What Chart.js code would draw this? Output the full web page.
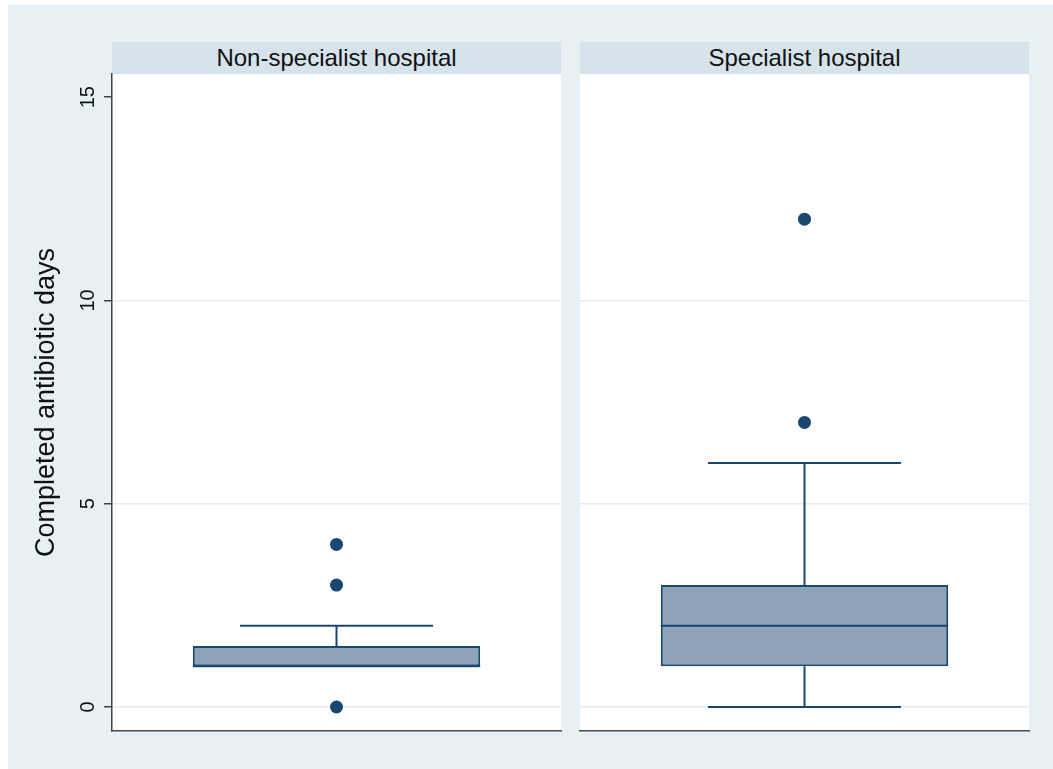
<!DOCTYPE html>
<html>
<head>
<meta charset="utf-8">
<title>Completed antibiotic days by hospital type</title>
<script src="https://cdn.jsdelivr.net/npm/chart.js@4.4.1/dist/chart.umd.min.js"></script>
<style>
  html, body { margin: 0; padding: 0; background: #ffffff; }
  body { width: 1053px; height: 769px; position: relative; overflow: hidden;
         font-family: "Liberation Sans", Arial, Helvetica, sans-serif; }
  #frame { position: absolute; left: 8px; top: 5px; width: 1045px; height: 764px; background: #e7f1f4; }
  .strip { position: absolute; top: 42px; height: 32px; line-height: 32px; background: #d6e3ea;
           color: #111; font-size: 24px; text-align: center; white-space: nowrap; }
  canvas { position: absolute; }
</style>
</head>
<body>
<div id="frame"></div>
<div class="strip" id="strip0" style="left:112px; width:449px;"></div>
<div class="strip" id="strip1" style="left:580px; width:449px;"></div>
<canvas id="panel0" width="562" height="700" style="left:0px; top:42px;"></canvas>
<canvas id="panel1" width="470" height="700" style="left:570px; top:42px;"></canvas>
<script>
// Box-plot summaries, one entry per hospital type
const panels       = ['Non-specialist hospital', 'Specialist hospital'];
const lowerWhisker = [1, 0];
const quartile1    = [1, 1];
const medians      = [1, 2];
const quartile3    = [1.5, 3];
const upperWhisker = [2, 6];
const outsideValues = [[4, 3, 0], [12, 7]];

// Y axis
const yTitle = 'Completed antibiotic days';
const yTicks = [0, 5, 10, 15];
const yMin = -0.59;
const yMax = 15.57;

const NAVY = '#1a476f';
const BOX_FILL = '#8fa3b8';
const FONT = '"Liberation Sans", Arial, Helvetica, sans-serif';
Chart.defaults.font.family = FONT;

document.getElementById('strip0').textContent = panels[0];
document.getElementById('strip1').textContent = panels[1];

// White plot region behind the grid
const plotBackground = {
  id: 'plotBackground',
  beforeDraw(chart) {
    const { ctx, chartArea: a } = chart;
    ctx.save();
    ctx.fillStyle = '#ffffff';
    ctx.fillRect(a.left, a.top, a.right - a.left, a.bottom - a.top);
    ctx.restore();
  }
};

// Whiskers (under the box) and median line (over the box), placed with the chart's scales
const boxWhiskers = {
  id: 'boxWhiskers',
  beforeDatasetsDraw(chart, args, opts) {
    const i = opts.index;
    const xs = chart.scales.x, ys = chart.scales.y;
    const cx = xs.getPixelForValue(0);
    const half = xs.width * opts.capFraction / 2;
    const ctx = chart.ctx;
    ctx.save();
    ctx.strokeStyle = NAVY;
    ctx.lineWidth = 2;
    const seg = (from, to) => {
      if (from === to) return;
      const y0 = ys.getPixelForValue(from), y1 = ys.getPixelForValue(to);
      ctx.beginPath();
      ctx.moveTo(cx, y0); ctx.lineTo(cx, y1);
      ctx.moveTo(cx - half, y1); ctx.lineTo(cx + half, y1);
      ctx.stroke();
    };
    seg(quartile3[i], upperWhisker[i]);
    seg(quartile1[i], lowerWhisker[i]);
    ctx.restore();
  },
  afterDatasetsDraw(chart, args, opts) {
    const i = opts.index;
    const bar = chart.getDatasetMeta(1).data[0];
    if (!bar) return;
    const y = chart.scales.y.getPixelForValue(medians[i]);
    const ctx = chart.ctx;
    ctx.save();
    ctx.strokeStyle = NAVY;
    ctx.lineWidth = 2;
    ctx.beginPath();
    ctx.moveTo(bar.x - bar.width / 2, y);
    ctx.lineTo(bar.x + bar.width / 2, y);
    ctx.stroke();
    ctx.restore();
  }
};

function noLabelPadding(s) {
  s.paddingTop = 0; s.paddingBottom = 0; s.paddingLeft = 0; s.paddingRight = 0;
}

function makePanel(i, canvasId, withAxis) {
  const label = panels[i];
  const yScale = {
    min: yMin,
    max: yMax,
    afterBuildTicks(s) { s.ticks = yTicks.map(v => ({ value: v })); },
    grid: {
      color: c => (c.tick && c.tick.value === yTicks[yTicks.length - 1]) ? 'rgba(0,0,0,0)' : '#e3ecf1',
      lineWidth: 1.5,
      drawTicks: withAxis,
      tickLength: 8,
      tickColor: '#444444',
      tickWidth: 1.5
    },
    border: { display: withAxis, color: '#444444', width: 1.5 },
    ticks: {
      display: withAxis,
      minRotation: 90,
      maxRotation: 90,
      crossAlign: 'center',
      padding: 4,
      color: '#111111',
      font: { size: 20 }
    },
    title: {
      display: withAxis,
      text: yTitle,
      color: '#111111',
      font: { size: 27, lineHeight: 1 },
      padding: { top: 33, bottom: 0 }
    },
    afterFit(s) { s.width = withAxis ? 112 : 0; noLabelPadding(s); }
  };

  return new Chart(document.getElementById(canvasId), {
    data: {
      labels: [label],
      datasets: [
        {
          type: 'line',
          data: outsideValues[i].map(v => ({ x: label, y: v })),
          showLine: false,
          pointRadius: 6.5,
          pointHoverRadius: 6.5,
          pointBackgroundColor: NAVY,
          pointBorderWidth: 0
        },
        {
          type: 'bar',
          data: [[quartile1[i], quartile3[i]]],
          backgroundColor: BOX_FILL,
          borderColor: NAVY,
          borderWidth: 2,
          borderSkipped: false,
          categoryPercentage: 1,
          barPercentage: 0.64
        }
      ]
    },
    options: {
      responsive: false,
      animation: false,
      events: [],
      layout: {
        autoPadding: false,
        padding: withAxis
          ? { left: 0, right: 1, top: 32, bottom: 11 }
          : { left: 10, right: 11, top: 32, bottom: 11 }
      },
      plugins: {
        legend: { display: false },
        tooltip: { enabled: false },
        boxWhiskers: { index: i, capFraction: 0.43 }
      },
      scales: {
        x: {
          type: 'category',
          offset: true,
          ticks: { display: false },
          grid: { display: false, drawTicks: false },
          border: { display: true, color: '#4a4a4a', width: 1.5 },
          afterFit(s) { s.height = 0; noLabelPadding(s); }
        },
        y: yScale
      }
    },
    plugins: [plotBackground, boxWhiskers]
  });
}

makePanel(0, 'panel0', true);
makePanel(1, 'panel1', false);
</script>
</body>
</html>
